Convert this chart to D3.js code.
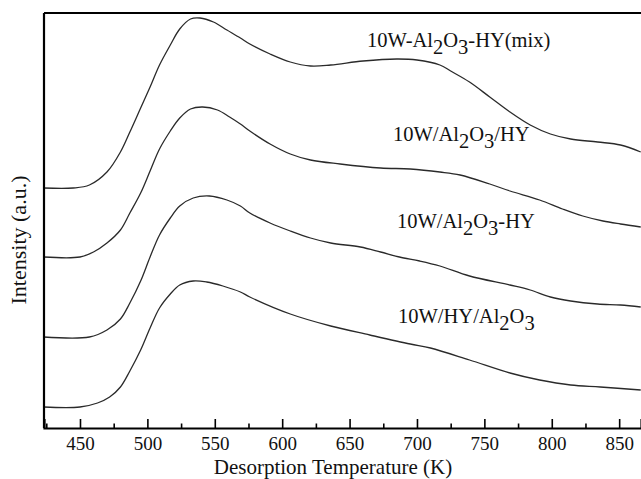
<!DOCTYPE html>
<html>
<head>
<meta charset="utf-8">
<script src="https://cdn.jsdelivr.net/npm/d3@7"></script>
<style>
  body { margin: 0; background: #fff; }
  svg text { font-family: "Liberation Serif", "DejaVu Serif", serif; fill: #111; }
</style>
</head>
<body>
<svg id="chart" width="641" height="479"></svg>
<script>
// TPD curves (temperature K, intensity a.u. with stacking offset)
var tempMix   = [423, 445, 457, 470, 480, 487, 495, 502, 509, 517, 524, 532, 539, 549, 559, 569, 576, 591, 606, 621, 636, 660, 685, 700, 717, 725, 739, 754, 769, 784, 799, 814, 834, 851, 866];
var valMix    = [240, 240, 243, 256, 276, 296, 320, 341, 363, 383, 399, 409, 410, 406, 398, 390, 384, 374, 366, 362, 363, 367, 369, 368, 363, 357, 346, 331, 316, 303, 294, 289, 286, 283, 276];

var tempAlHY  = [423, 450, 460, 470, 480, 487, 495, 502, 509, 517, 524, 532, 541, 552, 561, 569, 576, 591, 606, 621, 643, 673, 695, 717, 732, 754, 769, 791, 808, 823, 838, 851, 866];
var valAlHY   = [171, 171, 176, 185, 198, 215, 235, 257, 279, 297, 310, 319, 321, 318, 311, 304, 297, 284, 274, 268, 264, 260, 259, 256, 253, 244, 237, 228, 219, 212, 207, 204, 201];

var tempAlDash = [423, 457, 470, 480, 487, 495, 502, 509, 517, 524, 534, 546, 559, 569, 576, 591, 606, 621, 636, 658, 673, 687, 702, 717, 739, 769, 784, 799, 814, 834, 851, 866];
var valAlDash  = [91, 91, 98, 109, 125, 147, 171, 193, 210, 222, 230, 232, 228, 222, 215, 205, 197, 190, 185, 181, 176, 171, 167, 162, 152, 143, 138, 131, 127, 124, 123, 121];

var tempHYAl  = [423, 450, 463, 472, 480, 487, 495, 502, 509, 517, 524, 534, 544, 556, 569, 576, 606, 636, 665, 695, 710, 739, 769, 791, 814, 836, 866];
var valHYAl   = [21, 21, 25, 31, 41, 57, 78, 100, 120, 134, 143, 147, 146, 142, 136, 131, 114, 102, 93, 84, 80, 68, 55, 48, 43, 41, 38];

var seriesNames = ["10W-Al2O3-HY(mix)", "10W/Al2O3/HY", "10W/Al2O3-HY", "10W/HY/Al2O3"];
var majorTicks = [450, 500, 550, 600, 650, 700, 750, 800, 850];
var minorTicks = [425, 475, 525, 575, 625, 675, 725, 775, 825];

var svg = d3.select('#chart');
var width = 641, height = 479;
var margin = { top: 13, left: 44, bottom: 51, right: 0 };
var serif = '"Liberation Serif", "DejaVu Serif", serif';

var x = d3.scaleLinear().domain([423.3, 866.2]).range([margin.left, width - margin.right]);
var y = d3.scaleLinear().domain([0, 415]).range([height - margin.bottom, margin.top]);

var allSeries = [
    { t: tempMix, v: valMix },
    { t: tempAlHY, v: valAlHY },
    { t: tempAlDash, v: valAlDash },
    { t: tempHYAl, v: valHYAl }
];

var line = d3.line()
    .x(function(d){ return x(d[0]); })
    .y(function(d){ return y(d[1]); })
    .curve(d3.curveCatmullRom.alpha(0.5));

allSeries.forEach(function(s){
    var pts = s.t.map(function(t, i){ return [t, s.v[i]]; });
    svg.append('path')
        .attr('d', line(pts))
        .attr('fill', 'none')
        .attr('stroke', '#2a2a2a')
        .attr('stroke-width', 1.3);
});

// frame: top, left (bottom comes from the axis)
var yBottom = height - margin.bottom;
svg.append('line')
    .attr('x1', margin.left).attr('x2', width)
    .attr('y1', margin.top).attr('y2', margin.top)
    .attr('stroke', '#000').attr('stroke-width', 2.2);
svg.append('line')
    .attr('x1', margin.left).attr('x2', margin.left)
    .attr('y1', margin.top).attr('y2', yBottom)
    .attr('stroke', '#000').attr('stroke-width', 2.2);

// x axis, ticks point into the plot
var xAxis = svg.append('g')
    .attr('transform', 'translate(0,' + yBottom + ')')
    .call(d3.axisBottom(x).tickValues(majorTicks).tickSize(-9).tickPadding(9).tickFormat(d3.format('d')));
xAxis.attr('font-family', serif).attr('font-size', 19);
xAxis.select('.domain').attr('stroke-width', 2.2).attr('stroke', '#000');
xAxis.selectAll('.tick line').attr('stroke-width', 1.6).attr('stroke', '#000');
xAxis.selectAll('.tick text')
    .style('font-family', serif)
    .style('font-size', '19px')
    .attr('fill', '#111');

var xMinor = svg.append('g')
    .attr('transform', 'translate(0,' + yBottom + ')')
    .call(d3.axisBottom(x).tickValues(minorTicks).tickSize(-4.5).tickFormat(''));
xMinor.select('.domain').remove();
xMinor.selectAll('.tick line').attr('stroke-width', 1.6).attr('stroke', '#000');

// axis titles
svg.append('text')
    .attr('x', 333).attr('y', 474)
    .attr('text-anchor', 'middle')
    .style('font-family', serif)
    .style('font-size', '21px')
    .text('Desorption Temperature (K)');

svg.append('text')
    .attr('transform', 'translate(26,240) rotate(-90)')
    .attr('text-anchor', 'middle')
    .style('font-family', serif)
    .style('font-size', '22px')
    .text('Intensity (a.u.)');

// curve labels with lowered subscript digits
var labelPos = [
    { x: 367, y: 47 },
    { x: 393, y: 141 },
    { x: 397, y: 228 },
    { x: 398, y: 323 }
];

seriesNames.forEach(function(name, i){
    var t = svg.append('text')
        .attr('x', labelPos[i].x)
        .attr('y', labelPos[i].y)
        .style('font-family', serif)
        .style('font-size', '20.5px');
    // split "Al2O3" so 2 and 3 sit lower
    var parts = name.split(/(2|3)/);
    var shift = 0;
    parts.forEach(function(p){
        if(p === '') return;
        var sub = (p === '2' || p === '3');
        var want = sub ? 6.5 : 0;
        t.append('tspan').attr('dy', want - shift).text(p);
        shift = want;
    });
});
</script>
</body>
</html>
